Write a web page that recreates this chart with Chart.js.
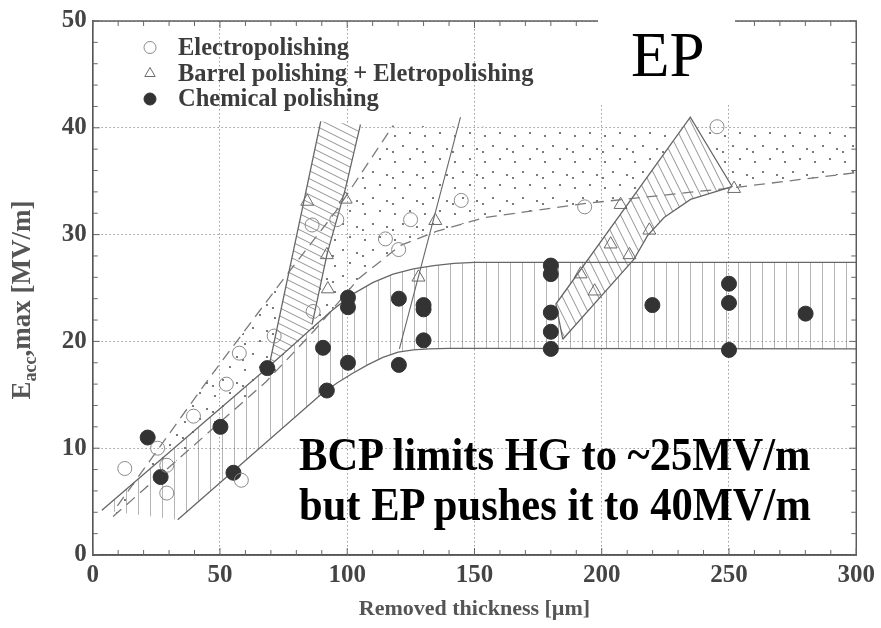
<!DOCTYPE html>
<html><head><meta charset="utf-8">
<script src="https://cdn.jsdelivr.net/npm/chart.js@4.4.1/dist/chart.umd.min.js"></script>
<style>
html,body{margin:0;padding:0;background:#fff;}
#wrap{position:relative;width:881px;height:628px;overflow:hidden;}
canvas{display:block;}
.note{position:absolute;font-family:"Liberation Serif","Times New Roman",serif;color:#000;white-space:nowrap;transform-origin:0 0;}
</style></head><body>
<div id="wrap">
<canvas id="c" width="881" height="628"></canvas>
<div style="position:absolute;left:598px;top:0;width:137px;height:105px;background:#fff;"></div>
<div class="note" style="left:631px;top:24px;font-size:63px;line-height:63px;">EP</div>
<div class="note" style="left:299px;top:430px;font-size:46px;line-height:50px;font-weight:bold;transform:scaleX(0.925);">BCP limits HG to ~25MV/m<br>but EP pushes it to 40MV/m</div>
</div>
<script>
// ---- measured data ----
const epX = [12.6, 25.5, 29.1, 29.1, 39.6, 52.5, 57.6, 58.4, 71.3, 86.6, 86.2, 95.9, 115, 120.2, 124.9, 144.8, 193.3, 245.3];
const epY = [8.1, 10.0, 8.4, 5.8, 13.0, 16.0, 18.9, 7.0, 20.5, 22.8, 30.9, 31.4, 29.6, 28.6, 31.4, 33.2, 32.6, 40.1];
const bpX = [84.3, 92.4, 92.0, 99.4, 128.0, 134.6, 191.7, 197.2, 203.5, 207.4, 210.9, 218.7, 252.0];
const bpY = [33.1, 24.9, 28.1, 33.3, 26.0, 31.3, 26.3, 24.7, 29.1, 32.8, 28.1, 30.4, 34.3];
const cpX = [21.6, 26.7, 50.2, 55.3, 68.6, 90.5, 92.0, 100.3, 100.3, 100.3, 120.3, 120.3, 130, 130, 130, 180, 180, 180, 180, 180, 219.9, 250, 250, 250, 280.1];
const cpY = [11.0, 7.3, 12.0, 7.7, 17.5, 19.4, 15.4, 24.1, 23.2, 18.0, 24.0, 17.8, 23.4, 23.0, 20.1, 27.1, 26.3, 22.7, 20.9, 19.3, 23.4, 25.4, 23.6, 19.2, 22.6];

// band boundaries
const bcpUpX = [3.6, 68, 78, 86, 94, 102, 110, 118, 126, 134, 142, 150, 300];
const bcpUpY = [4.2, 17.4, 19.5, 21.2, 22.9, 24.4, 25.5, 26.3, 26.8, 27.1, 27.3, 27.4, 27.4];
const bcpLoX = [33.4, 90, 96, 102, 108, 114, 120, 126, 132, 140, 150, 300];
const bcpLoY = [3.3, 15.1, 16.1, 17.0, 17.8, 18.5, 19.0, 19.2, 19.3, 19.35, 19.35, 19.3];
const epUpX = [9.7, 45.9, 74.5, 95.3, 118];
const epUpY = [4.6, 16.6, 25.7, 32.1, 40.2];
const epTopX = [300];
const epTopY = [39.7];
const epLoX = [8, 68, 87, 104.6, 121, 135, 154, 193, 252, 300];
const epLoY = [3.6, 16.2, 21.0, 25.9, 29.0, 30.3, 31.6, 32.9, 34.4, 35.8];
const thinX = [120.5, 144.5];
const thinY = [19.3, 41.0];
const aLeftX = [69.4, 89.6];
const aLeftY = [17.8, 40.6];
const aRightX = [86.2, 92.1, 99.3, 105.2];
const aRightY = [21.6, 28.2, 34.3, 40.3];
const bUpX = [182, 234.8];
const bUpY = [23.5, 41.0];
const bLoX = [184.7, 212.7, 218, 224.5, 234.9, 251.2];
const bLoY = [20.2, 27.7, 29.9, 31.6, 33.3, 34.5];

const xTicks = [0, 50, 100, 150, 200, 250, 300];
const yTicks = [0, 10, 20, 30, 40, 50];

// ---- helpers ----
const pts = (xs, ys) => xs.map((x, i) => ({x: x, y: ys[i]}));
const canvas = document.getElementById('c');
const mainCtx = canvas.getContext('2d');
function makePattern(w, h, bg, draw) {
  const c = document.createElement('canvas');
  c.width = w; c.height = h;
  const g = c.getContext('2d');
  if (bg) { g.fillStyle = bg; g.fillRect(0, 0, w, h); }
  draw(g, w, h);
  return mainCtx.createPattern(c, 'repeat');
}
function diag(g, w, h, color, lw) {
  g.strokeStyle = color; g.lineWidth = lw;
  for (const dx of [-w, 0, w]) for (const dy of [-h, 0, h]) {
    g.beginPath(); g.moveTo(dx, dy); g.lineTo(dx + w, dy + h); g.stroke();
  }
}
const vertPat = makePattern(12, 10, null, (g) => { g.strokeStyle = 'rgba(120,120,120,0.55)'; g.lineWidth = 1; g.beginPath(); g.moveTo(6.5, 0); g.lineTo(6.5, 10); g.stroke(); });
const dotPat = makePattern(30, 26, null, (g) => {
  g.fillStyle = '#5a5a5a';
  [[5, 6], [20, 3], [13, 16], [27, 19], [3, 22]].forEach(p => { g.beginPath(); g.arc(p[0], p[1], 1.1, 0, Math.PI * 2); g.fill(); });
});
const hatchA = makePattern(16, 8, '#fff', (g, w, h) => diag(g, w, h, 'rgba(100,100,100,0.7)', 1));
const hatchB = makePattern(9, 18, '#fff', (g, w, h) => diag(g, w, h, 'rgba(100,100,100,0.7)', 1));

// polygons built from the boundaries
const bcpPoly = pts(bcpUpX, bcpUpY).concat(pts(bcpLoX, bcpLoY).reverse());
const epPoly = pts(epUpX, epUpY).concat(pts(epTopX, epTopY), pts(epLoX, epLoY).reverse());
const aPoly = pts(aLeftX, aLeftY).concat(pts(aRightX, aRightY).reverse(),
  pts(bcpUpX, bcpUpY).filter(p => p.x > aLeftX[0] && p.x < aRightX[0]).reverse());
const bPoly = pts(bUpX, bUpY).concat(pts(bLoX, bLoY).reverse());
const bOutline = [pts(bLoX, bLoY)[0]].concat(pts(bUpX, bUpY), pts(bLoX, bLoY).reverse());

const LINE = '#676767';
function lineDs(data, extra) {
  return Object.assign({data: data, showLine: true, pointRadius: 0, borderColor: LINE, borderWidth: 1.3, fill: false, tension: 0}, extra || {});
}
function fillDs(data, bg) {
  return {data: data, showLine: true, pointRadius: 0, borderWidth: 0, borderColor: 'rgba(0,0,0,0)', backgroundColor: bg, fill: 'shape', tension: 0};
}

const datasets = [
  {label: 'Electropolishing', data: pts(epX, epY), pointStyle: 'circle', pointRadius: 7, pointBorderColor: '#8a8a8a', pointBackgroundColor: 'rgba(255,255,255,0)', pointBorderWidth: 1},
  {label: 'Barrel polishing + Eletropolishing', data: pts(bpX, bpY), pointStyle: 'triangle', pointRadius: 7.5, pointBorderColor: '#6a6a6a', pointBackgroundColor: 'rgba(255,255,255,0)', pointBorderWidth: 1},
  {label: 'Chemical polishing', data: pts(cpX, cpY), pointStyle: 'circle', pointRadius: 7.5, pointBorderColor: '#333', pointBackgroundColor: '#333', pointBorderWidth: 1},
  lineDs(pts(thinX, thinY), {borderWidth: 1.1}),
  lineDs(pts(aLeftX, aLeftY)),
  lineDs(pts(aRightX, aRightY)),
  lineDs(bOutline),
  lineDs(pts(bcpUpX, bcpUpY)),
  lineDs(pts(bcpLoX, bcpLoY)),
  lineDs(pts(epUpX, epUpY), {borderDash: [11, 7], borderColor: '#7a7a7a'}),
  lineDs(pts(epLoX, epLoY), {borderDash: [11, 7], borderColor: '#7a7a7a'}),
  fillDs(aPoly, hatchA),
  fillDs(bPoly, hatchB),
  fillDs(bcpPoly, vertPat),
  fillDs(epPoly, dotPat)
];

const SERIF = '"Liberation Serif","Times New Roman",serif';
const decor = {
  id: 'decor',
  afterDatasetsDraw(chart) {
    const ctx = chart.ctx, a = chart.chartArea, xs = chart.scales.x, ys = chart.scales.y;
    ctx.save();
    ctx.strokeStyle = '#555'; ctx.lineWidth = 1.4;
    ctx.strokeRect(a.left, a.top, a.right - a.left, a.bottom - a.top);
    ctx.strokeStyle = '#666'; ctx.lineWidth = 1;
    ctx.beginPath();
    for (let v = 0; v <= 300; v += 10) {
      const px = xs.getPixelForValue(v), L = v % 50 === 0 ? 7 : 5;
      ctx.moveTo(px, a.bottom); ctx.lineTo(px, a.bottom - L);
      ctx.moveTo(px, a.top); ctx.lineTo(px, a.top + L);
    }
    for (let v = 0; v <= 50; v += 2) {
      const py = ys.getPixelForValue(v), L = v % 10 === 0 ? 7 : 5;
      ctx.moveTo(a.left, py); ctx.lineTo(a.left + L, py);
      ctx.moveTo(a.right, py); ctx.lineTo(a.right - L, py);
    }
    ctx.stroke();
    ctx.restore();
  },
  afterDraw(chart) {
    const ctx = chart.ctx, a = chart.chartArea;
    ctx.save();
    ctx.fillStyle = '#555';
    ctx.font = 'bold 22px ' + SERIF;
    ctx.textAlign = 'center'; ctx.textBaseline = 'middle';
    ctx.fillText('Removed thickness [\u00b5m]', (a.left + a.right) / 2, 609);
    // y title with subscript
    ctx.translate(24, 300); ctx.rotate(-Math.PI / 2);
    const big = 'bold 27px ' + SERIF, small = 'bold 18px ' + SERIF;
    ctx.textAlign = 'left'; ctx.textBaseline = 'alphabetic';
    ctx.font = big; const w1 = ctx.measureText('E').width;
    ctx.font = small; const w2 = ctx.measureText('acc').width;
    ctx.font = big; const w3 = ctx.measureText(',max [MV/m]').width;
    const x0 = -(w1 + w2 + w3) / 2;
    ctx.font = big; ctx.fillText('E', x0, 6);
    ctx.font = small; ctx.fillText('acc', x0 + w1, 12);
    ctx.font = big; ctx.fillText(',max [MV/m]', x0 + w1 + w2, 6);
    ctx.setTransform(1, 0, 0, 1, 0, 0);
    // legend
    const items = [
      {t: 'Electropolishing', y: 47.5, ds: 0},
      {t: 'Barrel polishing + Eletropolishing', y: 73.5, ds: 1},
      {t: 'Chemical polishing', y: 99, ds: 2}
    ];
    items.forEach(it => {
      const d = chart.data.datasets[it.ds];
      ctx.fillStyle = d.pointBackgroundColor; ctx.strokeStyle = d.pointBorderColor; ctx.lineWidth = 1;
      Chart.helpers.drawPoint(ctx, {pointStyle: d.pointStyle, radius: 6, borderWidth: 1, rotation: 0}, 150, it.y);
      ctx.fillStyle = '#3c3c3c';
      ctx.font = 'bold 24.5px ' + SERIF; ctx.textAlign = 'left'; ctx.textBaseline = 'middle';
      ctx.fillText(it.t, 178, it.y + 1);
    });
    ctx.restore();
  }
};

new Chart(canvas, {
  type: 'scatter',
  data: {datasets: datasets},
  options: {
    responsive: false, animation: false, devicePixelRatio: 1, events: [],
    layout: {padding: {top: 17.5, right: 21.3, bottom: 0, left: 0}},
    plugins: {legend: {display: false}, tooltip: {enabled: false}},
    scales: {
      x: {
        type: 'linear', min: 0, max: 300,
        afterFit: s => { s.height = 73; },
        afterBuildTicks: s => { s.ticks = xTicks.map(v => ({value: v})); },
        ticks: {padding: 6, color: '#444', font: {family: SERIF, size: 25, weight: 'bold'}},
        grid: {drawTicks: false, color: '#9c9c9c', lineWidth: 1},
        border: {display: true, color: '#555', width: 1.4, dash: [1.5, 2.5]}
      },
      y: {
        type: 'linear', min: 0, max: 50,
        afterFit: s => { s.width = 92.7; },
        afterBuildTicks: s => { s.ticks = yTicks.map(v => ({value: v})); },
        ticks: {padding: 6, color: '#444', font: {family: SERIF, size: 25, weight: 'bold'}},
        grid: {drawTicks: false, color: '#9c9c9c', lineWidth: 1},
        border: {display: true, color: '#555', width: 1.4, dash: [1.5, 2.5]}
      }
    }
  },
  plugins: [decor]
});
</script>
</body></html>
